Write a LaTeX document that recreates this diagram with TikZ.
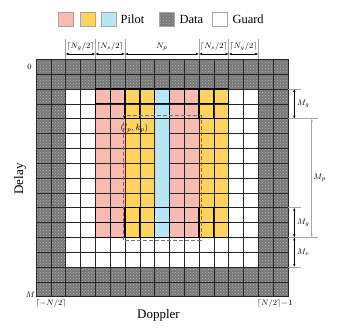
\documentclass[tikz,border=0pt]{standalone}
\usepackage{fontspec}
\setmainfont{Liberation Serif}
\usetikzlibrary{patterns,arrows.meta,calc}
\definecolor{pk}{HTML}{F9BAB1}
\definecolor{yl}{HTML}{FFD45C}
\definecolor{bl}{HTML}{B7E7F6}
\definecolor{dg}{HTML}{767676}
\def\gx#1{(36+(#1)*14.8235)}
\def\gy#1{(59.3+(#1)*14.8375)}
\begin{document}
\begin{tikzpicture}[x=1pt,y=-1pt,
  gridline/.style={black!85,line width=0.5pt},
  pilotcell/.style={black,line width=1.2pt},
  ext/.style={gray!70,line width=0.6pt},
  dimarrow/.style={black,line width=0.5pt,{Latex[length=3pt,width=2.4pt]}-{Latex[length=3pt,width=2.4pt]}},
  lbl/.style={font=\fontsize{8}{9}\selectfont,inner sep=0pt},
  legbox/.style={draw=gray!70,line width=0.5pt,minimum width=15pt,minimum height=14.4pt,inner sep=0pt},
  legtext/.style={font=\fontsize{12.5}{14}\selectfont,anchor=west,inner sep=0pt},
  datafill/.style={fill=dg,postaction={pattern=crosshatch dots,pattern color=gray!55}},
  big/.style={font=\fontsize{13}{15}\selectfont,inner sep=0pt}
]
\useasboundingbox (0,0) rectangle (338,334);

% legend
\node[legbox,fill=pk] (lpk) at (66,19.5) {};
\node[legbox,fill=yl] (lyl) at (87.9,19.5) {};
\node[legbox,fill=bl] (lbl) at (108.4,19.5) {};
\node[legtext] (tpilot) at (120.5,19.5) {Pilot};
\node[legbox,datafill] (ldata) at (167.2,19.5) {};
\node[legtext] (tdata) at (179.3,19.5) {Data};
\node[legbox] (lguard) at (220,19.5) {};
\node[legtext] (tguard) at (232.3,19.5) {Guard};

% data region
\fill[datafill] ({\gx{0}},{\gy{0}}) rectangle ({\gx{17}},{\gy{2}});
\fill[datafill] ({\gx{0}},{\gy{14}}) rectangle ({\gx{17}},{\gy{16}});
\fill[datafill] ({\gx{0}},{\gy{2}}) rectangle ({\gx{2}},{\gy{14}});
\fill[datafill] ({\gx{15}},{\gy{2}}) rectangle ({\gx{17}},{\gy{14}});

% pilot columns
\foreach \c/\col in {4/pk,5/pk,6/yl,7/yl,8/bl,9/pk,10/pk,11/yl,12/yl}{
  \fill[\col] ({\gx{\c}},{\gy{2}}) rectangle ({\gx{\c+1}},{\gy{12}});
}

% grid lines
\foreach \j in {0,...,16}{
  \draw[gridline] ({\gx{0}},{\gy{\j}}) -- ({\gx{17}},{\gy{\j}});
}
\foreach \i in {0,...,17}{
  \draw[gridline] ({\gx{\i}},{\gy{0}}) -- ({\gx{\i}},{\gy{16}});
}

% solid middle blue column
\fill[bl] ({\gx{8}},{\gy{4}}) rectangle ({\gx{9}},{\gy{10}});

% thick pilot cells
\foreach \i in {4,...,12}{
  \foreach \j in {2,3,10,11}{
    \draw[pilotcell] ({\gx{\i}},{\gy{\j}}) rectangle ({\gx{\i+1}},{\gy{\j+1}});
  }
}

% dashed region
\draw[black!55,line width=0.8pt,dash pattern=on 4pt off 2pt] (123.3,115.7) rectangle (200.9,240);
\node[font=\fontsize{9}{10}\selectfont,inner sep=0pt] (lpkp) at (134.5,128) {$(l_p,k_p)$};

% top dimensions
\foreach \k/\c in {a/2,b/4,c/6,d/11,e/13,f/15}{
  \coordinate (t\k) at ({\gx{\c}},54);
  \coordinate (u\k) at ({\gx{\c}},39);
  \draw[ext] (u\k) -- ({\gx{\c}},{\gy{0}});
}
\draw[dimarrow] (ta) -- (tb);
\draw[dimarrow] (tb) -- (tc);
\draw[dimarrow] (tc) -- (td);
\draw[dimarrow] (td) -- (te);
\draw[dimarrow] (te) -- (tf);
\node[lbl] (n1) at ($(ta)!0.5!(tb)+(0,-7.5)$) {$\lceil N_g/2\rceil$};
\node[lbl] (n2) at ($(tb)!0.5!(tc)+(0,-7.5)$) {$\lceil N_s/2\rceil$};
\node[lbl] (n3) at ($(tc)!0.5!(td)+(0,-7.5)$) {$N_p$};
\node[lbl] (n4) at ($(td)!0.5!(te)+(0,-7.5)$) {$\lceil N_s/2\rceil$};
\node[lbl] (n5) at ($(te)!0.5!(tf)+(0,-7.5)$) {$\lceil N_g/2\rceil$};

% right dimensions
\coordinate (r0) at ({\gx{17}},{\gy{2}});
\coordinate (r1) at ({\gx{17}},{\gy{4}});
\coordinate (r2) at ({\gx{17}},{\gy{10}});
\coordinate (r3) at ({\gx{17}},{\gy{12}});
\coordinate (r4) at ({\gx{17}},{\gy{14}});
\draw[ext] (r0) -- ++(12.7,0) coordinate (e0);
\draw[ext] (r1) -- ++(30,0) coordinate (e1);
\draw[ext] (r2) -- ++(12.7,0) coordinate (e2);
\draw[ext] (r3) -- ++(30,0) coordinate (e3);
\draw[ext] (r4) -- ++(12.7,0) coordinate (e4);
\coordinate (a0) at ($(r0)+(6.3,0)$);
\coordinate (a1) at ($(r1)+(6.3,0)$);
\coordinate (a2) at ($(r2)+(6.3,0)$);
\coordinate (a3) at ($(r3)+(6.3,0)$);
\coordinate (a4) at ($(r4)+(6.3,0)$);
\coordinate (b1) at ($(r1)+(23.7,0)$);
\coordinate (b3) at ($(r3)+(23.7,0)$);
\draw[dimarrow] (a0) -- (a1);
\draw[dimarrow] (a2) -- (a3);
\draw[dimarrow] (a3) -- (a4);
\draw[ext,{Latex[length=3pt,width=2.4pt]}-{Latex[length=3pt,width=2.4pt]}] (b1) -- (b3);
\node[lbl] (m1) at ($(a0)!0.5!(a1)+(9,0)$) {$M_g$};
\node[lbl] (m2) at ($(b1)!0.5!(b3)+(8,0)$) {$M_p$};
\node[lbl] (m3) at ($(a2)!0.5!(a3)+(9,0)$) {$M_g$};
\node[lbl] (m4) at ($(a3)!0.5!(a4)+(9,0)$) {$M_e$};

% axis labels
\node[lbl] (z0) at (29.5,66.7) {$0$};
\node[lbl] (zM) at (30.5,295) {$M$};
\node[lbl] (xl) at (51,304) {$\lceil -N/2\rceil$};
\node[lbl] (xr) at (275,304) {$\lceil N/2\rceil\!-\!1$};
\node[big,rotate=90] (delay) at (20,179) {Delay};
\node[big] (doppler) at (158.5,315) {Doppler};
\end{tikzpicture}
\end{document}
